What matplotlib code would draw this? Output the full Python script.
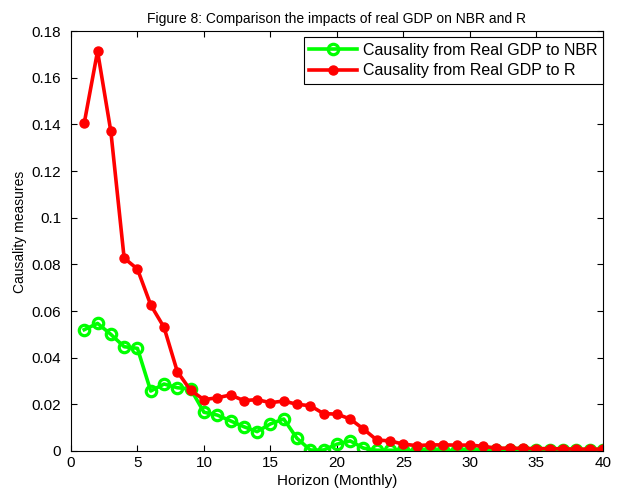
import matplotlib
matplotlib.use("Agg")
import matplotlib.pyplot as plt
import numpy as np

plt.rcParams['font.family'] = ['Liberation Sans', 'DejaVu Sans']

horizon = list(range(1, 41))

nbr = [0.052, 0.0547, 0.050, 0.0447, 0.044, 0.0257, 0.0287, 0.0271, 0.0266, 0.0166,
       0.0154, 0.0129, 0.0104, 0.0083, 0.0116, 0.0137, 0.0054, 0.0004, 0.0004, 0.0029,
       0.0043, 0.0012, 0.0003, 0.0003, 0.0002, 0.0002, 0.0002, 0.0002, 0.0002, 0.0002,
       0.0002, 0.0002, 0.0002, 0.0002, 0.0002, 0.0002, 0.0002, 0.0002, 0.0002, 0.0002]

r = [0.1406, 0.1714, 0.137, 0.0827, 0.078, 0.0626, 0.053, 0.034, 0.026, 0.022,
     0.0228, 0.024, 0.0216, 0.022, 0.0207, 0.0214, 0.020, 0.0194, 0.016, 0.0158,
     0.0137, 0.0094, 0.0047, 0.0043, 0.0029, 0.0023, 0.0026, 0.0026, 0.0025, 0.0025,
     0.002, 0.0012, 0.0012, 0.0011, 0.001, 0.001, 0.0009, 0.0008, 0.0008, 0.0008]

fig = plt.figure(figsize=(6.17, 4.95), dpi=100)
ax = fig.add_axes([0.115, 0.089, 0.862, 0.848])

ax.plot(horizon, nbr, color='#00ff00', lw=2.6, marker='o', ms=7.5,
        mfc='none', mec='#00ff00', mew=2.3,
        label='Causality from Real GDP to NBR')
ax.plot(horizon, r, color='#ff0000', lw=2.6, marker='o', ms=6.5,
        mfc='#ff0000', mec='#ff0000',
        label='Causality from Real GDP to R')

ax.set_xlim(0, 40)
ax.set_ylim(0, 0.18)
ax.set_xticks(range(0, 41, 5))
ax.set_yticks(np.arange(0, 0.181, 0.02))
ax.set_yticklabels(['0', '0.02', '0.04', '0.06', '0.08', '0.1', '0.12', '0.14', '0.16', '0.18'])
ax.tick_params(direction='in', top=True, right=True, labelsize=11, length=4.5, width=0.8)
ax.tick_params(axis='y', pad=7)
for s in ax.spines.values():
    s.set_linewidth(0.8)

ax.set_xlabel('Horizon (Monthly)', fontsize=11, labelpad=3)
ax.set_ylabel('Causality measures', fontsize=10)
ax.yaxis.set_label_coords(-0.083, 0.523)
ax.set_title('Figure 8: Comparison the impacts of real GDP on NBR and R', fontsize=10, pad=6)

leg = ax.legend(loc='upper right', bbox_to_anchor=(1.0, 1.0 - 6 / 420),
                fontsize=11.5, fancybox=False, framealpha=1,
                edgecolor='black', borderpad=0.35, handlelength=3.0,
                handletextpad=0.35, labelspacing=0.35, borderaxespad=0.0)
leg.get_frame().set_linewidth(0.8)

fig.savefig('out.png', dpi=100)
